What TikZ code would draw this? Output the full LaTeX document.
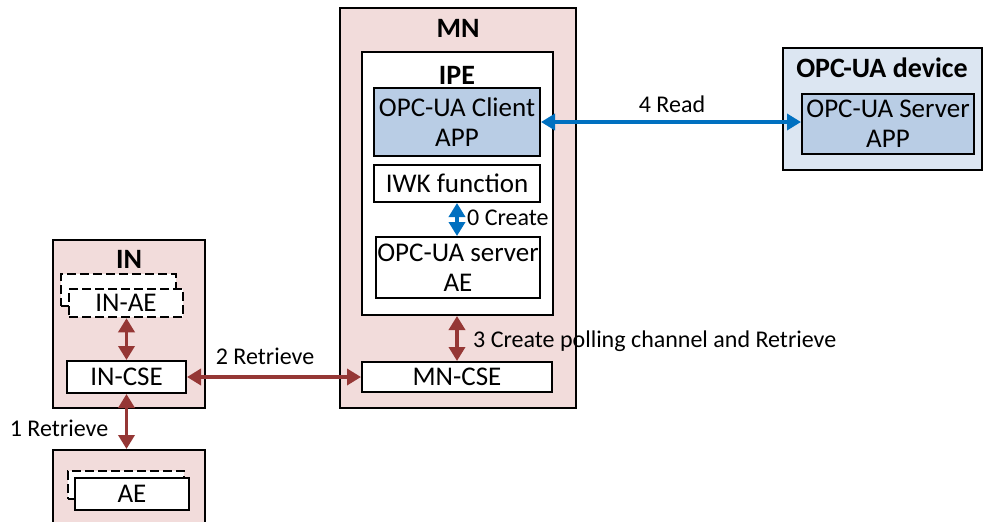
\documentclass[tikz,border=0pt]{standalone}
\usepackage{fontspec}
\setmainfont{Carlito}
\usetikzlibrary{arrows.meta}
\definecolor{pinkbg}{RGB}{242,220,219}
\definecolor{lightblue}{RGB}{220,230,242}
\definecolor{appblue}{RGB}{185,205,229}
\definecolor{redarr}{RGB}{149,55,53}
\definecolor{bluearr}{RGB}{0,112,192}
\tikzset{
  box/.style={draw=black, line width=2pt, inner sep=0pt, align=center, font=\fontsize{27}{30}\selectfont},
  dbox/.style={box, line width=2.5pt, dash pattern=on 9pt off 4pt},
  ttl/.style={inner sep=0pt, font=\fontsize{28}{30}\selectfont\bfseries},
  lbl/.style={inner sep=0pt, font=\fontsize{24}{28}\selectfont},
  rarr/.style={draw=redarr, line width=3.5pt, {Triangle[length=14pt,width=16pt]}-{Triangle[length=14pt,width=16pt]}},
  barr/.style={draw=bluearr, line width=3.5pt, {Triangle[length=14pt,width=16pt]}-{Triangle[length=14pt,width=16pt]}},
}
\begin{document}
\begin{tikzpicture}[x=1pt,y=-1pt]
\useasboundingbox (0,0) rectangle (986,522);
% MN
\node[box, fill=pinkbg, minimum width=236pt, minimum height=400pt] (MN) at (458,208) {};
\node[ttl] (MNt) at (458,28) {MN};
\node[box, fill=white, minimum width=191pt, minimum height=263pt] (IPE) at (457.5,183.5) {};
\node[ttl] (IPEt) at (457,75) {IPE};
\node[box, fill=appblue, minimum width=166pt, minimum height=68pt] (client) at (457,122) {OPC-UA Client\\APP};
\node[box, fill=white, minimum width=166pt, minimum height=37pt] (IWK) at (457,183.5) {IWK function};
\node[box, fill=white, minimum width=164pt, minimum height=61pt] (srvAE) at (458,267.5) {OPC-UA server\\AE};
\node[box, fill=white, minimum width=190pt, minimum height=30pt] (MNCSE) at (457,377) {MN-CSE};
% device
\node[box, fill=lightblue, minimum width=199pt, minimum height=122pt] (dev) at (882.5,109) {};
\node[ttl] (devt) at (882,68) {OPC-UA device};
\node[box, fill=appblue, minimum width=172pt, minimum height=60pt] (srvapp) at (888,124) {OPC-UA Server\\APP};
% IN
\node[box, fill=pinkbg, minimum width=152pt, minimum height=168pt] (IN) at (129,324) {};
\node[ttl] (INt) at (129,259) {IN};
\node[dbox, fill=white, minimum width=115pt, minimum height=32pt] (INAEb) at (118.5,290) {};
\node[dbox, fill=white, minimum width=114pt, minimum height=28pt] (INAE) at (126,303) {IN-AE};
\node[box, fill=white, minimum width=119pt, minimum height=32pt] (INCSE) at (126.5,377) {IN-CSE};
% AE
\node[box, fill=pinkbg, minimum width=152pt, minimum height=84pt] (AEbox) at (129,492) {};
\node[dbox, fill=white, minimum width=116pt, minimum height=28pt] (AEb) at (126,485) {};
\node[box, fill=white, minimum width=114pt, minimum height=32pt] (AE) at (132,494) {AE};
% arrows
\draw[rarr] (INAE.south -| INCSE.north) -- (INCSE.north);
\draw[rarr] (INCSE.east) -- (MNCSE.west);
\node[lbl] (l2) at (265,356) {2 Retrieve};
\draw[rarr] (INCSE.south) -- (INCSE.south |- AEbox.north);
\node[lbl] (l1) at (59,428) {1 Retrieve};
\draw[rarr] (IPE.south -| MNCSE.north) -- (MNCSE.north);
\node[lbl, anchor=west] (l3) at (473,341) {3 Create polling channel and Retrieve};
\draw[barr] (IWK.south) -- (IWK.south |- srvAE.north);
\node[lbl, anchor=west] (l0) at (467,218) {0 Create};
\draw[barr] (client.east) -- (client.east -| srvapp.west);
\node[lbl] (l4) at (672,104) {4 Read};
\end{tikzpicture}
\end{document}
